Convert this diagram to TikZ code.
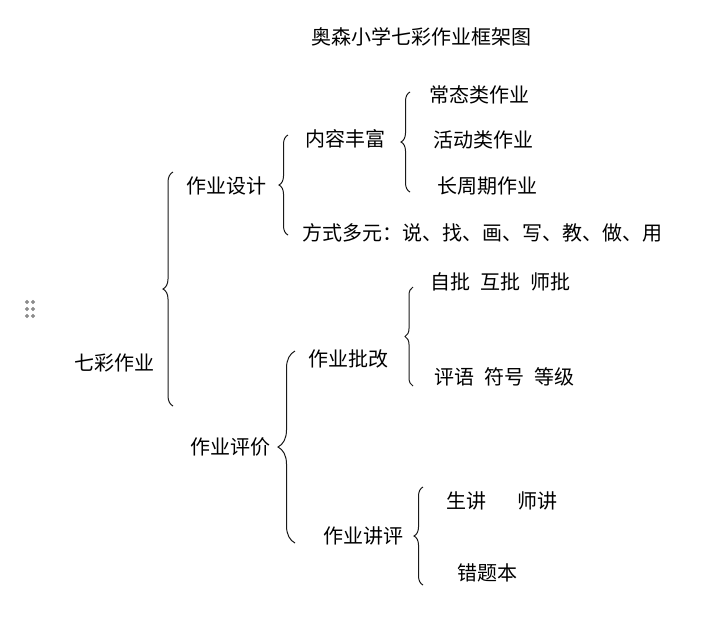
\documentclass[tikz,border=0pt]{standalone}
\usepackage{fontspec}
\setmainfont{Noto Sans CJK SC}
\usepackage{tikz}
\usetikzlibrary{decorations.pathreplacing}
\tikzset{
  txt/.style={inner sep=0pt, font=\fontsize{20}{24}\selectfont},
  curly/.style={decorate, decoration={brace, amplitude=#1}, color=black!90, line width=1pt},
  curly/.default=9pt
}

\begin{document}
\begin{tikzpicture}[x=1pt,y=-1pt]
\useasboundingbox (0,0) rectangle (709,633);
\node (T) at (421,37) [txt] {奥森小学七彩作业框架图};
\node (Q) at (114,363) [txt] {七彩作业};
\node (D) at (226,186) [txt] {作业设计};
\node (E) at (230,447) [txt] {作业评价};
\node (D1) at (345,139) [txt] {内容丰富};
\node (D2) at (302,233) [txt,anchor=west] {方式多元：说、找、画、写、教、做、用};
\node (D11) at (429,95) [txt,anchor=west] {常态类作业};
\node (D12) at (433,140) [txt,anchor=west] {活动类作业};
\node (D13) at (437,186) [txt,anchor=west] {长周期作业};
\node (E1) at (348,359) [txt] {作业批改};
\node (E2) at (363,536) [txt] {作业讲评};
\node (E11) at (430,282) [txt,anchor=west] {自批\hspace{0.5em}互批\hspace{0.5em}师批};
\node (E12) at (434,377) [txt,anchor=west] {评语\hspace{0.5em}符号\hspace{0.5em}等级};
\node (E21) at (446,501) [txt,anchor=west] {生讲\hspace{1.55em}师讲};
\node (E22) at (457,573) [txt,anchor=west] {错题本};
% brace ends
\coordinate (B1a) at (173,406); \coordinate (B1b) at (173,172);
\coordinate (B2a) at (288,235); \coordinate (B2b) at (288,135);
\coordinate (B3a) at (410,192); \coordinate (B3b) at (410,92);
\coordinate (B4a) at (295,543); \coordinate (B4b) at (295,351);
\coordinate (B5a) at (413,386); \coordinate (B5b) at (413,287);
\coordinate (B6a) at (423,585); \coordinate (B6b) at (423,487);
\draw[curly=10pt] (B1a)--(B1b);
\draw[curly] (B2a)--(B2b);
\draw[curly] (B3a)--(B3b);
\draw[curly=17pt] (B4a)--(B4b);
\draw[curly=8pt] (B5a)--(B5b);
\draw[curly] (B6a)--(B6b);
% handle
\foreach \x in {27,33}
  \foreach \y in {302,309,316}
    \filldraw[gray!90] (\x,\y) circle (1.9pt);
\end{tikzpicture}
\end{document}
